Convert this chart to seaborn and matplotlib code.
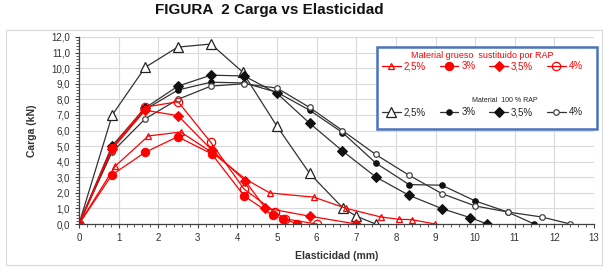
import matplotlib
matplotlib.use("Agg")
import matplotlib.pyplot as plt
from matplotlib.patches import Rectangle
from matplotlib.ticker import MultipleLocator, FuncFormatter
import seaborn as sns

# Material grueso sustituido por RAP (red)
red_25_x = [0, 0.91, 1.75, 2.57, 3.35, 4.22, 4.82, 5.93, 6.75, 7.62, 8.09, 8.4, 8.99]
red_25_y = [0, 3.7, 5.65, 5.9, 4.6, 2.85, 1.99, 1.72, 1.0, 0.45, 0.3, 0.28, 0]
red_30_x = [0, 0.83, 1.67, 2.49, 3.35, 4.17, 4.89, 5.16, 5.51]
red_30_y = [0, 3.15, 4.6, 5.6, 4.5, 1.8, 0.56, 0.35, 0]
red_35_x = [0, 0.83, 1.67, 2.5, 3.35, 4.2, 4.7, 5.82, 7.0]
red_35_y = [0, 4.8, 7.3, 6.95, 4.75, 2.75, 1.03, 0.5, 0]
red_40_x = [0, 0.83, 1.67, 2.5, 3.33, 4.17, 4.95, 5.2, 6.0]
red_40_y = [0, 4.9, 7.5, 7.85, 5.23, 2.23, 0.77, 0.33, 0]

# Material 100 % RAP (black)
blk_25_x = [0, 0.84, 1.67, 2.49, 3.33, 4.13, 4.99, 5.82, 6.66, 7.0, 7.49]
blk_25_y = [0, 7.0, 10.05, 11.35, 11.55, 9.75, 6.3, 3.25, 1.03, 0.5, 0]
blk_30_x = [0, 0.83, 1.67, 2.5, 3.33, 4.17, 5.0, 5.82, 6.65, 7.49, 8.33, 9.16, 10.0, 10.82, 11.49]
blk_30_y = [0, 4.8, 7.35, 8.6, 9.1, 9.05, 8.45, 7.3, 5.87, 3.92, 2.53, 2.49, 1.48, 0.77, 0]
blk_35_x = [0, 0.83, 1.67, 2.5, 3.33, 4.17, 5.0, 5.82, 6.65, 7.49, 8.33, 9.16, 9.87, 10.31]
blk_35_y = [0, 5.0, 7.45, 8.85, 9.55, 9.5, 8.38, 6.47, 4.69, 3.02, 1.84, 0.99, 0.41, 0]
blk_40_x = [0, 0.83, 1.67, 2.5, 3.33, 4.17, 5.0, 5.82, 6.65, 7.49, 8.33, 9.16, 10.0, 10.82, 11.68, 12.4]
blk_40_y = [0, 4.6, 6.75, 8.0, 8.85, 9.0, 8.72, 7.48, 6.0, 4.46, 3.13, 1.95, 1.16, 0.77, 0.45, 0]

labels = ["2,5%", "3%", "3,5%", "4%"]

RED = "#ff0000"
BLUE = "#4a73bd"

sns.set_style("white")
plt.rcParams["font.family"] = ["Liberation Sans", "DejaVu Sans"]

fig = plt.figure(figsize=(6.04, 2.68), dpi=100)
ax = fig.add_axes([79 / 604, 1 - 224 / 268, 515 / 604, 187 / 268])

# outer chart frame
fig.patches.append(Rectangle((6 / 604, 3 / 268), 596 / 604, 235 / 268, transform=fig.transFigure,
                             fill=False, edgecolor="#d9d9d9", lw=0.8))

red_series = [(red_25_x, red_25_y, dict(marker="^", ms=5, mfc="none", mec=RED, mew=0.9)),
              (red_30_x, red_30_y, dict(marker="o", ms=6, mfc=RED, mec=RED)),
              (red_35_x, red_35_y, dict(marker="D", ms=5, mfc=RED, mec=RED)),
              (red_40_x, red_40_y, dict(marker="o", ms=6, mfc="none", mec=RED, mew=0.9))]
blk_series = [(blk_25_x, blk_25_y, dict(marker="^", ms=7, mfc="white", mec="#222222", mew=0.9)),
              (blk_30_x, blk_30_y, dict(marker="o", ms=4, mfc="#111111", mec="#111111")),
              (blk_35_x, blk_35_y, dict(marker="D", ms=5.5, mfc="#111111", mec="#111111")),
              (blk_40_x, blk_40_y, dict(marker="o", ms=4, mfc="white", mec="#444444", mew=0.9))]

red_handles, blk_handles = [], []
for (xs, ys, st), lab in zip(blk_series, labels):
    sns.lineplot(x=xs, y=ys, ax=ax, sort=False, estimator=None, color="#333333", lw=0.9, **st)
    blk_handles.append(ax.lines[-1])
for (xs, ys, st), lab in zip(red_series, labels):
    sns.lineplot(x=xs, y=ys, ax=ax, sort=False, estimator=None, color=RED, lw=0.9, **st)
    red_handles.append(ax.lines[-1])

ax.set_xlim(0, 13)
ax.set_ylim(0, 12)
ax.xaxis.set_major_locator(MultipleLocator(1))
ax.xaxis.set_minor_locator(MultipleLocator(0.2))
ax.yaxis.set_major_locator(MultipleLocator(1))
ax.yaxis.set_minor_locator(MultipleLocator(0.2))
ax.yaxis.set_major_formatter(FuncFormatter(lambda v, p: f"{v:.1f}".replace(".", ",")))
ax.grid(True, which="major", color="#d9d9d9", lw=0.8)
ax.set_axisbelow(True)
for s in ["top", "right"]:
    ax.spines[s].set_visible(False)
for s in ["left", "bottom"]:
    ax.spines[s].set_color("#404040")
    ax.spines[s].set_linewidth(0.9)
ax.tick_params(axis="both", which="both", direction="out", colors="#404040", labelcolor="#333333",
               labelsize=7, bottom=True, left=True)
ax.tick_params(which="major", length=3, width=0.8)
ax.tick_params(which="minor", length=2, width=0.6)
ax.set_xlabel("Elasticidad (mm)", fontsize=7.5, fontweight="bold", color="#333333", labelpad=6)
ax.set_ylabel("Carga (kN)", fontsize=7.5, fontweight="bold", color="#333333", labelpad=10)

fig.text(269 / 604, 0.962, "FIGURA  2 Carga vs Elasticidad", ha="center", va="center",
         fontsize=11, fontweight="bold", color="#111111")

# legend box
ax.add_patch(Rectangle((0.579, 0.508), 0.427, 0.439, transform=ax.transAxes, clip_on=False,
                       facecolor="white", edgecolor=BLUE, lw=1.8, zorder=5))
leg_kw = dict(ncol=4, loc="upper left", frameon=False, fontsize=7, handlelength=1.9,
              columnspacing=1.45, handletextpad=0.3, borderpad=0.2, borderaxespad=0)
leg1 = ax.legend(red_handles, labels, bbox_to_anchor=(0.585, 0.935),
                 title="Material grueso  sustituido por RAP", title_fontsize=6.5, **leg_kw)
leg1._legend_box.sep = 1
leg1.get_title().set_color(RED)
for t in leg1.get_texts():
    t.set_color(RED)
leg1.set_zorder(6)
ax.add_artist(leg1)
leg2 = ax.legend(blk_handles, labels, bbox_to_anchor=(0.585, 0.635), **leg_kw)
leg2.set_zorder(6)
ax.text(0.827, 0.66, "Material  100 % RAP", transform=ax.transAxes, fontsize=5, ha="center",
        va="center", zorder=7, color="#222222")

fig.savefig("out.png", dpi=100)
